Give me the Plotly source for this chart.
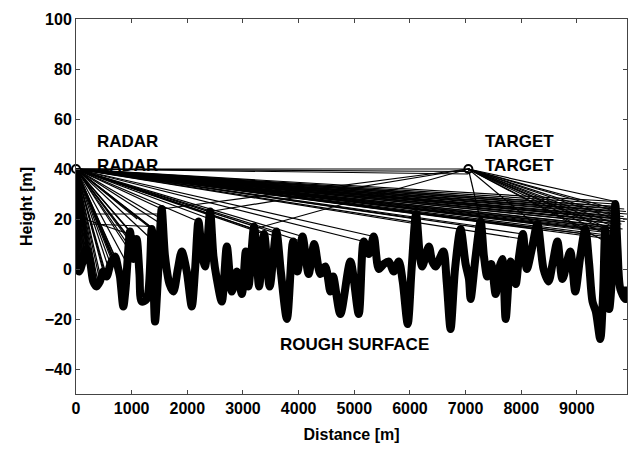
import plotly.graph_objects as go

# ---- data ----
surface_x = [0, 60, 120, 190, 260, 310, 370, 430, 490, 550, 620, 700, 760, 790, 850, 890, 940, 970,
             1030, 1090, 1140, 1180, 1270, 1360, 1420, 1480, 1540, 1600, 1680, 1750, 1830, 1900, 1990,
             2080, 2140, 2200, 2270, 2320, 2350, 2410, 2470, 2530, 2620, 2710, 2800, 2890, 2980, 3050,
             3100, 3200, 3290, 3380, 3480, 3600, 3680, 3790, 3900, 3980, 4070, 4180, 4280, 4390, 4480,
             4570, 4620, 4750, 4930, 5080, 5170, 5260, 5350, 5440, 5530, 5620, 5710, 5800, 5870, 5960,
             6030, 6110, 6180, 6220, 6340, 6400, 6460, 6600, 6660, 6730, 6810, 6910, 7000, 7060, 7090,
             7180, 7270, 7330, 7390, 7460, 7540, 7600, 7660, 7720, 7810, 7900, 7960, 8030, 8100, 8190,
             8290, 8400, 8490, 8570, 8650, 8740, 8880, 8970, 9060, 9150, 9220, 9280, 9340, 9420, 9470,
             9510, 9580, 9640, 9690, 9730, 9780, 9870, 9900]
surface_y = [0, -1, 3, 8, 2, -5, -7, -5, -1, -3, 2, 5, 0, -3, -15, -8, 8, 15,
             4, 12, -2, -13, -12, 16, -21, 0, 24, 5, -6, -9, 0, 7, -1,
             -15, 0, 19, 5, 1, 7, 23, 5, -4, -13, 9, -9, -1, -10, 7,
             -7, 17, -7, 14, -7, 15, -1, -20, 11, -1, 13, -2, 10, -2, 1,
             -9, -3, -18, 3, -18, 11, 6, 13, 0, 2, 3, -1, 3, -5, -22,
             0, 22, 5, 1, 9, 3, 1, 7, -5, -24, 0, 16, 2, -4, -12,
             5, 19, 5, -3, 2, -10, 0, 4, -20, 3, -6, 5, 14, 0, 8,
             18, 0, -5, 3, 11, -4, 7, -9, 5, 16, 2, -13, -17, -28, -10,
             16, -16, 0, 26, 8, -8, -12, -7]

radar_pos = (0, 40)
target_pos = (7050, 40)

# rays leaving the radar: near-field end points
radar_near_x = [10, 20, 30, 40, 50, 60, 70, 80, 90, 100, 110, 120, 130, 140, 150, 160, 170, 180, 190,
                200, 210, 220, 240, 260, 280, 300, 320, 350, 380, 400, 430, 450, 490, 520, 550, 590,
                620, 650, 680, 700, 730, 760, 820, 880, 920, 940, 970, 1000, 1050, 1090, 1100,
                1330, 1360, 1510, 1540, 1540, 960, 1080, 1350, 1530]
radar_near_y = [0, 0, 0, -1, -1, -1, 0, 1, 1, 2, 3, 3, 4, 5, 6, 6, 7, 8, 8,
                7, 6, 5, 3, 2, -1, -3, -5, -6, -7, -6, -5, -4, -1, -2, -3, 0,
                2, 3, 4, 5, 3, 0, -5, -8, 2, 8, 15, 10, 6, 12, 20,
                17, 16, 14, 24, 20, 12, 9, 12, 18]

# rays leaving the radar: far-field end points
radar_far_x = [2200, 2410, 2410, 3200, 3380, 3600, 4070, 5170, 5350, 6110, 6130, 7270, 7270, 8030,
               8290, 8290, 9150, 9150, 9510, 9510, 9690, 9690, 9690, 9690, 9700, 9700, 9700, 9710,
               9710, 9720, 9720, 9730, 9740, 9750, 9760, 9690, 9680, 9670, 9650, 9640, 9620, 9600,
               9780, 9800, 9820, 7050, 7050, 7050, 9850, 9880, 9900, 9900, 9860, 9840, 3590, 4060,
               6100, 8020]
radar_far_y = [19, 22, 20, 16, 14, 15, 13, 11, 13, 22, 18, 19, 17, 14,
               18, 16, 16, 14, 16, 13, 27, 26, 25, 24, 23, 22, 21, 20,
               19, 18, 17, 16, 15, 14, 13, 25, 23, 21, 19, 17, 15, 12,
               20, 18, 16, 40, 39, 38, 24, 23, 22, 20, 19, 21, 13, 11,
               20, 12]

# rays leaving the target: end points
target_end_x = [9690, 9690, 9690, 9700, 9710, 9720, 9600, 9510, 9150, 8290, 7270, 9700, 9680, 9660,
                1540, 2410, 3200]
target_end_y = [27, 24, 21, 18, 15, 12, 10, 16, 16, 17, 19, 23, 20, 17,
                24, 23, 16]

# extra surface-to-surface segments
extra_x0 = [300, 250, 150]
extra_y0 = [22, 18, 20]
extra_x1 = [1540, 1360, 1090]
extra_y1 = [22, 17, 13]

xs, ys = [], []
for ex, ey in zip(radar_near_x + radar_far_x, radar_near_y + radar_far_y):
    xs += [radar_pos[0], ex, None]
    ys += [radar_pos[1], ey, None]
for ex, ey in zip(target_end_x, target_end_y):
    xs += [target_pos[0], ex, None]
    ys += [target_pos[1], ey, None]
for a, b, c, d in zip(extra_x0, extra_y0, extra_x1, extra_y1):
    xs += [a, c, None]
    ys += [b, d, None]

fig = go.Figure()
fig.add_trace(go.Scatter(x=xs, y=ys, mode="lines", line=dict(color="black", width=1.2),
                         hoverinfo="skip", showlegend=False))
fig.add_trace(go.Scatter(x=surface_x, y=surface_y, mode="lines",
                         line=dict(color="black", width=8, shape="spline", smoothing=0.8),
                         showlegend=False))
fig.add_trace(go.Scatter(x=[radar_pos[0], target_pos[0]], y=[radar_pos[1], target_pos[1]],
                         mode="markers",
                         marker=dict(symbol="circle-open", size=8, color="black", line=dict(width=2)),
                         showlegend=False, cliponaxis=False))

tick_font = dict(family="Liberation Sans, Arial", size=16, color="black", weight="bold")
ann_font = dict(family="Liberation Sans, Arial", size=17, color="black", weight="bold")
ann = [
    dict(x=340, y=51, text="RADAR"),
    dict(x=340, y=41.6, text="RADAR"),
    dict(x=7320, y=51, text="TARGET"),
    dict(x=7320, y=41.6, text="TARGET"),
    dict(x=3630, y=-30, text="ROUGH SURFACE"),
]
fig.update_layout(
    width=630, height=450,
    margin=dict(l=76, r=3, t=19, b=56),
    paper_bgcolor="white", plot_bgcolor="white",
    annotations=[dict(a, xref="x", yref="y", xanchor="left", yanchor="middle",
                      showarrow=False, font=ann_font) for a in ann],
)
fig.update_xaxes(range=[0, 9900], tickvals=[0, 1000, 2000, 3000, 4000, 5000, 6000, 7000, 8000, 9000],
                 showgrid=False, zeroline=False, showline=True, linecolor="#444", linewidth=1,
                 mirror="ticks", ticks="inside", ticklen=4, tickcolor="#444",
                 tickfont=tick_font, title=dict(text="Distance [m]", font=tick_font, standoff=12))
fig.update_yaxes(range=[-50, 100], tickvals=[-40, -20, 0, 20, 40, 60, 80, 100],
                 showgrid=False, zeroline=False, showline=True, linecolor="#444", linewidth=1,
                 mirror="ticks", ticks="inside", ticklen=4, tickcolor="#444",
                 tickfont=tick_font, title=dict(text="Height [m]", font=tick_font, standoff=8))
fig.write_html("out.html")
